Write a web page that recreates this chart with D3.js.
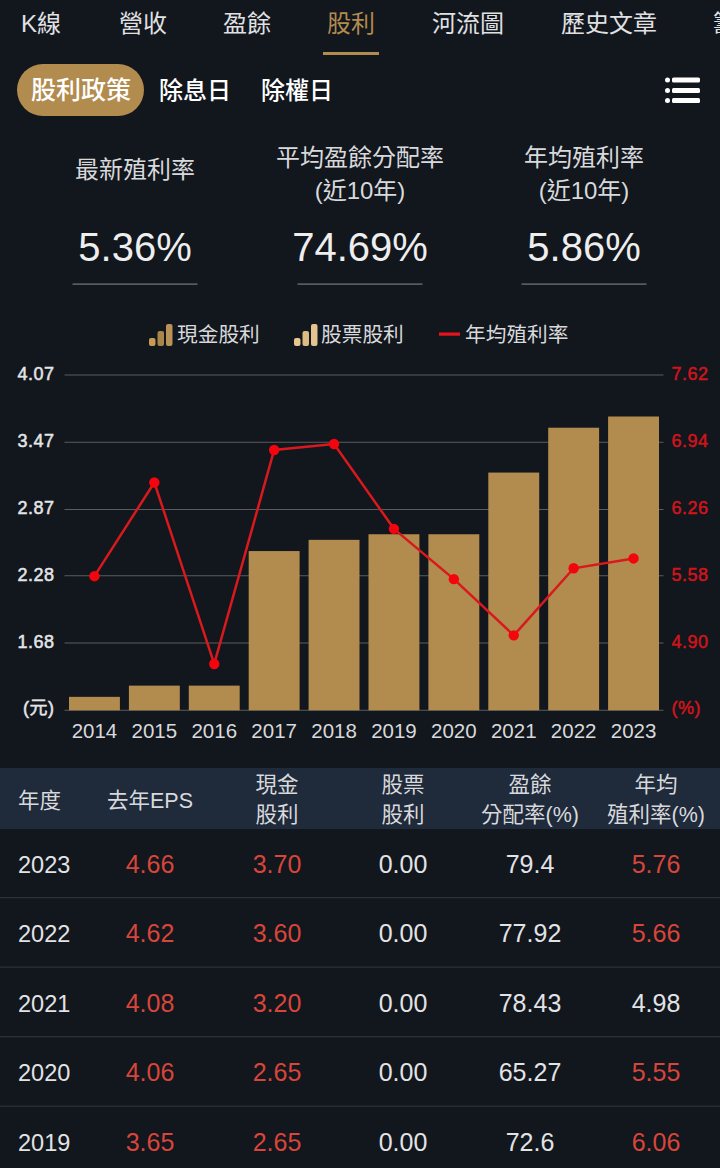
<!DOCTYPE html>
<html><head><meta charset="utf-8">
<script src="https://cdn.jsdelivr.net/npm/d3@7"></script>
<style>
html,body{margin:0;padding:0;background:#12161d;overflow:hidden}
svg{display:block}
text{font-family:"Liberation Sans","Noto Sans CJK TC",sans-serif}
</style></head><body><svg id="c" width="720" height="1168"></svg>
<script>
const years=["2014","2015","2016","2017","2018","2019","2020","2021","2022","2023"];
const cashDividend=[1.20,1.30,1.30,2.50,2.60,2.65,2.65,3.20,3.60,3.70];
const yieldRate=[5.58,6.53,4.69,6.86,6.92,6.06,5.55,4.98,5.66,5.76];
const leftTicks=[1.08,1.68,2.28,2.87,3.47,4.07];
const rightTicks=[4.22,4.90,5.58,6.26,6.94,7.62];
const tabs=["K線","營收","盈餘","股利","河流圖","歷史文章","籌"];
const subTabs=["股利政策","除息日","除權日"];
const legendLabels=["現金股利","股票股利","年均殖利率"];
const statValues=["5.36%","74.69%","5.86%"];
const tableYears=["2023","2022","2021","2020","2019"];
const tableEps=["4.66","4.62","4.08","4.06","3.65"];
const tableCash=["3.70","3.60","3.20","2.65","2.65"];
const tableStock=["0.00","0.00","0.00","0.00","0.00"];
const tablePayout=["79.4","77.92","78.43","65.27","72.6"];
const tableYield=["5.76","5.66","4.98","5.55","6.06"];

const GOLD="#b28b4e",RED="#e8141c",WHITE="#e6e7e9";
const svg=d3.select("#c");
svg.append("rect").attr("width",720).attr("height",1168).attr("fill","#12161d");
function T(x,y,s,size,fill,anchor,weight){return svg.append("text").attr("x",x).attr("y",y).text(s)
 .attr("font-size",size).attr("fill",fill||WHITE).attr("text-anchor",anchor||"middle").attr("font-weight",weight||400);}

// tabs
[[21],[119],[223],[327],[432],[561],[713]].forEach((p,i)=>T(p[0],32,tabs[i],24,i==3?GOLD:"#e0e1e3","start"));
svg.append("rect").attr("x",323).attr("y",52).attr("width",56).attr("height",3).attr("fill",GOLD);
// sub tabs
svg.append("rect").attr("x",17).attr("y",64).attr("width",127).attr("height",52).attr("rx",26).attr("fill",GOLD);
[[31,25],[159,24],[261,24]].forEach((p,i)=>T(p[0],99,subTabs[i],p[1],"#fff","start",500));
[80,90.5,100.5].forEach(y=>{
 svg.append("circle").attr("cx",667.5).attr("cy",y).attr("r",2.5).attr("fill","#fff");
 svg.append("rect").attr("x",672).attr("y",y-2.5).attr("width",28).attr("height",5).attr("rx",1.5).attr("fill","#fff");
});
// stats
const cx=[135,360,584];
T(cx[0],178,"最新殖利率",24,"#d8d9db");
T(cx[1],166,"平均盈餘分配率",24,"#d8d9db"); T(cx[1],199,"(近10年)",24,"#d8d9db");
T(cx[2],166,"年均殖利率",24,"#d8d9db"); T(cx[2],199,"(近10年)",24,"#d8d9db");
cx.forEach((c,i)=>{T(c,260.5,statValues[i],40,"#eeeeee");
 svg.append("rect").attr("x",c-62.5).attr("y",283.5).attr("width",125).attr("height",1.2).attr("fill","#77797c");});
// legend
function barsIcon(x,cols){[[0,7,8],[8.5,14,15],[17,22,22]].forEach((b,i)=>{
 svg.append("rect").attr("x",x+b[0]).attr("y",346-b[2]).attr("width",6.5).attr("height",b[2]).attr("rx",2).attr("fill",cols[i]);});}
barsIcon(149,["#c79b55","#a98549","#b99258"]);
barsIcon(294,["#e8c68c","#dcbb84","#e4c391"]);
T(177,342,legendLabels[0],20.7,"#d8d9db","start");
T(321,342,legendLabels[1],20.7,"#d8d9db","start");
svg.append("rect").attr("x",439).attr("y",332.5).attr("width",21).attr("height",3.2).attr("fill",RED);
T(465,342,legendLabels[2],20.7,"#d8d9db","start");

// chart
const x=d3.scaleBand().domain(years).range([64.5,663.5]).paddingInner(.15).paddingOuter(.075);
const yL=d3.scaleLinear().domain([1.08,4.07]).range([710.3,375]);
const yR=d3.scaleLinear().domain([4.22,7.62]).range([710.3,375]);
svg.append("g").selectAll("line").data(leftTicks).join("line")
 .attr("x1",64.5).attr("x2",663.5).attr("y1",d=>yL(d)).attr("y2",d=>yL(d))
 .attr("stroke","#5a5c5e").attr("stroke-width",1.1);
svg.append("g").selectAll("rect").data(years).join("rect")
 .attr("x",d=>x(d)).attr("width",x.bandwidth())
 .attr("y",(d,i)=>yL(cashDividend[i])).attr("height",(d,i)=>yL(1.08)-yL(cashDividend[i]))
 .attr("fill",GOLD);
function styleTicks(g,color,minVal){
 g.select(".domain").remove();
 g.attr("font-family",null);
 g.selectAll("text").attr("font-size",18).attr("fill",color).attr("stroke",color).attr("stroke-width",.5)
  .attr("letter-spacing",.5).attr("dy",d=>d===minVal?"0.19em":"0.24em");
}
const gl=svg.append("g").attr("transform","translate(54.5,0)")
 .call(d3.axisLeft(yL).tickValues(leftTicks).tickSize(0).tickPadding(0).tickFormat(d=>d===1.08?"(元)":d3.format(".2f")(d)));
styleTicks(gl,"#e4e5e6",1.08);
const gr=svg.append("g").attr("transform","translate(671.5,0)")
 .call(d3.axisRight(yR).tickValues(rightTicks).tickSize(0).tickPadding(0).tickFormat(d=>d===4.22?"(%)":d3.format(".2f")(d)));
styleTicks(gr,"#cf151b",4.22);
const gx=svg.append("g").attr("transform","translate(0,710.3)")
 .call(d3.axisBottom(x).tickSize(0).tickPadding(0));
gx.select(".domain").remove();
gx.attr("font-family",null);
gx.selectAll("text").attr("font-size",20.5).attr("fill","#d8d9db").attr("dy","27.5").attr("y",0);
const line=d3.line().x((d,i)=>x(years[i])+x.bandwidth()/2).y(d=>yR(d));
svg.append("path").attr("d",line(yieldRate)).attr("fill","none").attr("stroke","#d8191d").attr("stroke-width",2.5);
svg.append("g").selectAll("circle").data(yieldRate).join("circle")
 .attr("cx",(d,i)=>x(years[i])+x.bandwidth()/2).attr("cy",d=>yR(d)).attr("r",5.2).attr("fill","#f4050d");

// table
svg.append("rect").attr("y",768).attr("width",720).attr("height",61).attr("fill","#1f2a3b");
const colX=[18,150,277,403,530,656];
const HD="#d8d9db";
T(colX[0],807.5,"年度",21.5,HD,"start");
T(colX[1],807.5,"去年EPS",21.5,HD);
T(colX[2],792,"現金",21.5,HD);T(colX[2],822,"股利",21.5,HD);
T(colX[3],792,"股票",21.5,HD);T(colX[3],822,"股利",21.5,HD);
T(colX[4],792,"盈餘",21.5,HD);T(colX[4],822,"分配率(%)",21.5,HD);
T(colX[5],792,"年均",21.5,HD);T(colX[5],822,"殖利率(%)",21.5,HD);
const rowY=d3.scalePoint().domain(tableYears).range([864,1142]);
const LOSS="#d8453a";
const yieldHighlight=v=>+v>=5?LOSS:"#e2e3e5";
tableYears.forEach((yr,i)=>{
 const yb=rowY(yr)+8.5;
 T(colX[0],yb,yr,23.5,"#e2e3e5","start");
 T(colX[1],yb,tableEps[i],25,LOSS);
 T(colX[2],yb,tableCash[i],25,LOSS);
 T(colX[3],yb,tableStock[i],25,"#e2e3e5");
 T(colX[4],yb,tablePayout[i],25,"#e2e3e5");
 T(colX[5],yb,tableYield[i],25,yieldHighlight(tableYield[i]));
 if(i<4) svg.append("rect").attr("y",rowY(yr)+33).attr("width",720).attr("height",1.3).attr("fill","#2c3037");
});
</script></body></html>
